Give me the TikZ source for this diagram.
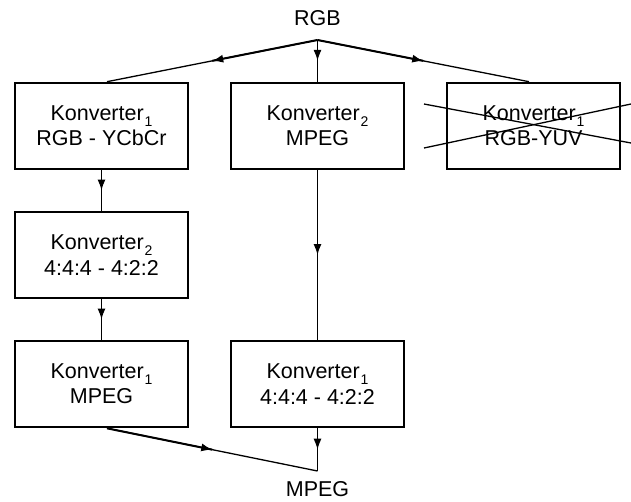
\documentclass[tikz,border=0pt]{standalone}
\usepackage{fontspec}
\setmainfont{Liberation Sans}
\usetikzlibrary{arrows.meta,decorations.markings,calc}
% lowered small index after a converter name
\newcommand{\idx}[1]{\kern1pt\raisebox{-0.27em}{\fontsize{14}{14}\selectfont #1}}

\begin{document}
\begin{tikzpicture}[x=1pt,y=-1pt,
  box/.style={draw,line width=2.6pt,minimum width=173pt,minimum height=86pt,
    inner sep=0pt,align=center,font=\fontsize{21.5}{25.4}\selectfont},
  flow/.style={line width=1.3pt,postaction={decorate},
    decoration={markings,mark=at position 0.5 with {\arrow{Latex[length=11pt,width=8pt]}}}},
  heavy/.style={line width=2pt},
  strike/.style={line width=1.3pt},
  lbl/.style={font=\fontsize{21.5}{24}\selectfont,inner sep=0pt}]
\useasboundingbox (0,0) rectangle (631,501);

% input and output labels
\node[lbl] (rgb) at (317.5,18) {RGB};
\node[lbl] (mpeg) at (317.5,489) {MPEG};
\coordinate (split) at (317.5,40);
\coordinate (join) at (317.5,471);

% converter chains
\node[box] (a1) at (101.5,126) {Konverter\idx{1}\\RGB - YCbCr};
\node[box] (b1) at (317.5,126) {Konverter\idx{2}\\MPEG};
\node[box] (c1) at (533.5,126) {Konverter\idx{1}\\RGB-YUV};
\node[box] (a2) at (101.5,255) {Konverter\idx{2}\\4:4:4 - 4:2:2};
\node[box] (a3) at (101.5,384) {Konverter\idx{1}\\MPEG};
\node[box] (b3) at (317.5,384) {Konverter\idx{1}\\4:4:4 - 4:2:2};

% fan-out from the RGB input
\coordinate (aIn) at ([xshift=5.5pt]a1.north);
\coordinate (cIn) at ([xshift=-4.5pt]c1.north);
\draw[heavy] (split) -- ($(split)!0.5!(aIn)$);
\draw[heavy] (split) -- ($(split)!0.5!(cIn)$);
\draw[flow] (split) -- (aIn);
\draw[flow] (split) -- (b1.north);
\draw[flow] (split) -- (cIn);

% vertical links
\draw[flow] (a1.south) -- (a2.north);
\draw[flow] (a2.south) -- (a3.north);
\draw[flow] (b1.south) -- (b3.north);

% merge into the MPEG output
\coordinate (aOut) at ([xshift=5.5pt]a3.south);
\draw[heavy] (aOut) -- ($(aOut)!0.5!(join)$);
\draw[flow] (aOut) -- (join);
\draw[flow] (b3.south) -- (join);

% rejected converter crossed out
\coordinate (x1) at (424,104);
\coordinate (x2) at (631,143);
\coordinate (x3) at (424,148);
\coordinate (x4) at (631,104);
\draw[strike] (x1) -- (x2);
\draw[strike] (x3) -- (x4);
\end{tikzpicture}
\end{document}
